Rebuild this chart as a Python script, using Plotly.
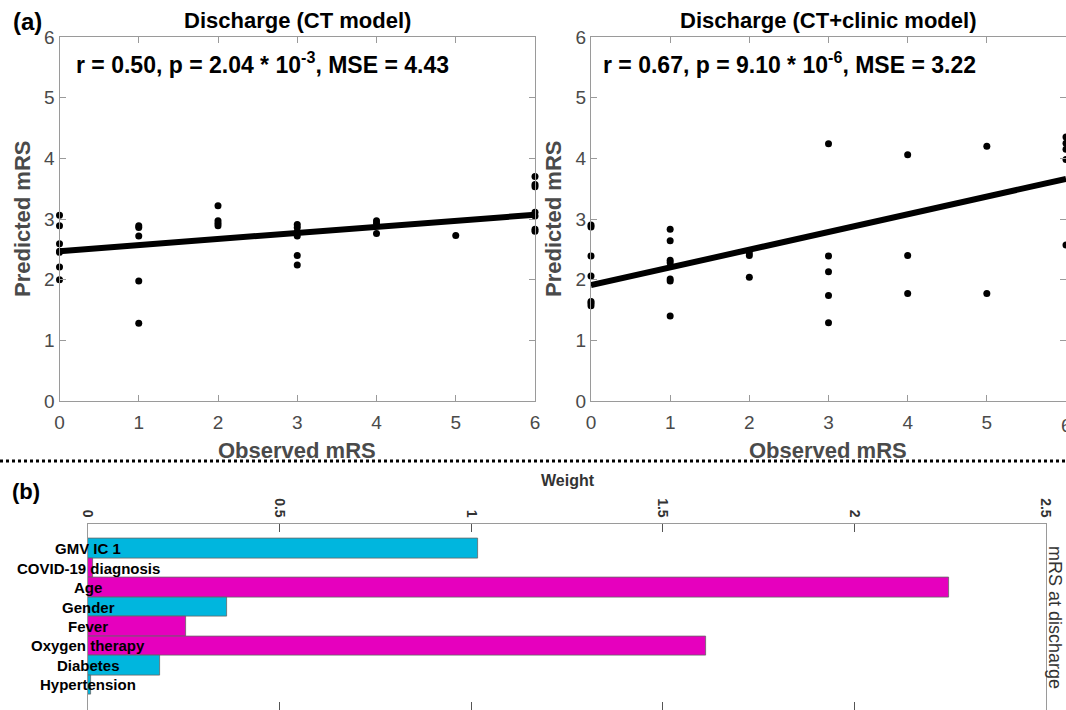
import plotly.graph_objects as go

# ---------------- data ----------------
# Panel (a) left: CT model
ct_observed = [0, 0, 0, 0, 0, 0, 0,
               1, 1, 1, 1, 1,
               2, 2, 2, 2,
               3, 3, 3, 3, 3, 3,
               4, 4, 4,
               5,
               6, 6, 6, 6, 6, 6, 6]
ct_predicted = [3.06, 2.89, 2.59, 2.47, 2.45, 2.21, 2.00,
                2.89, 2.86, 2.72, 1.98, 1.28,
                3.22, 2.97, 2.93, 2.89,
                2.91, 2.86, 2.79, 2.72, 2.40, 2.24,
                2.97, 2.93, 2.76,
                2.73,
                3.70, 3.57, 3.53, 3.11, 3.05, 2.83, 2.80]
ct_fit_intercept = 2.47
ct_fit_slope = 0.10

# Panel (a) right: CT+clinic model
cc_observed = [0, 0, 0, 0, 0, 0, 0,
               1, 1, 1, 1, 1, 1, 1,
               2, 2, 2,
               3, 3, 3, 3, 3,
               4, 4, 4,
               5, 5,
               6, 6, 6, 6, 6]
cc_predicted = [2.90, 2.87, 2.39, 2.06, 1.64, 1.61, 1.57,
                2.83, 2.64, 2.32, 2.28, 2.01, 1.98, 1.40,
                2.44, 2.40, 2.04,
                4.24, 2.39, 2.13, 1.74, 1.29,
                4.06, 2.40, 1.77,
                4.20, 1.77,
                4.35, 4.25, 4.15, 3.98, 2.57]
cc_fit_intercept = 1.91
cc_fit_slope = 0.292

fit_x = [0, 6]
axis_ticks = [0, 1, 2, 3, 4, 5, 6]

# Panel (b): weights
features = ["GMV IC 1", "COVID-19 diagnosis", "Age", "Gender", "Fever",
            "Oxygen therapy", "Diabetes", "Hypertension"]
weights = [1.019, 0.013, 2.246, 0.363, 0.256, 1.612, 0.187, 0.008]
feature_group = ["img", "clin", "clin", "img", "clin", "clin", "img", "img"]
weight_ticks = [0, 0.5, 1, 1.5, 2, 2.5]
weight_ticktext = ["0", "0.5", "1", "1.5", "2", "2.5"]

CYAN = "#00B6DE"
MAGENTA = "#E600BE"
FONT = "Liberation Sans, Arial, sans-serif"
AXIS_GRAY = "#9a9a9a"
TEXT_GRAY = "#4a4a4a"

W, H = 1066, 710


def px_x(p):
    return p / W


def px_y(p):
    return 1 - p / H


fig = go.Figure()

# scatter panels
for xs, ys, b0, b1, xa, ya in [
    (ct_observed, ct_predicted, ct_fit_intercept, ct_fit_slope, "x", "y"),
    (cc_observed, cc_predicted, cc_fit_intercept, cc_fit_slope, "x2", "y2"),
]:
    fig.add_trace(go.Scatter(
        x=fit_x, y=[b0 + b1 * v for v in fit_x], mode="lines",
        line=dict(color="black", width=6), xaxis=xa, yaxis=ya,
        showlegend=False, hoverinfo="skip", cliponaxis=False))
    fig.add_trace(go.Scatter(
        x=xs, y=ys, mode="markers",
        marker=dict(color="black", size=7), xaxis=xa, yaxis=ya,
        showlegend=False, cliponaxis=False))

# bar panel
bar_colors = [CYAN if g == "img" else MAGENTA for g in feature_group]
fig.add_trace(go.Bar(
    x=weights, y=list(range(len(features))), orientation="h",
    marker=dict(color=bar_colors, line=dict(color="#666666", width=0.8)),
    width=1.0, xaxis="x3", yaxis="y3", showlegend=False,
    hovertext=features))

scatter_ax = dict(
    range=[0, 6], tickvals=axis_ticks, showline=True, mirror="ticks",
    linecolor=AXIS_GRAY, linewidth=1.2, ticks="inside", ticklen=6,
    tickcolor=AXIS_GRAY, showgrid=False, zeroline=False, automargin=False,
    tickfont=dict(family=FONT, size=19, color=TEXT_GRAY),
)

yd = [px_y(401), px_y(37)]

fig.update_layout(
    width=W, height=H, margin=dict(l=0, r=0, t=0, b=0, autoexpand=False),
    paper_bgcolor="white", plot_bgcolor="white",
    font=dict(family=FONT),
    bargap=0,
    xaxis=dict(scatter_ax, domain=[px_x(59.5), px_x(535)], anchor="y",
               ticklabelstandoff=4),
    yaxis=dict(scatter_ax, domain=yd, anchor="x"),
    xaxis2=dict(scatter_ax, domain=[px_x(591), 1.0], anchor="y2",
                ticklabelstandoff=4),
    yaxis2=dict(scatter_ax, domain=yd, anchor="x2"),
    xaxis3=dict(range=[0, 2.5], domain=[px_x(88), px_x(1046)], anchor="y3",
                side="top", tickvals=weight_ticks, ticktext=weight_ticktext,
                tickangle=90, showline=True, mirror="ticks",
                linecolor=AXIS_GRAY, linewidth=1, ticks="inside", ticklen=8,
                tickcolor="#555555", showgrid=False, zeroline=False,
                automargin=False,
                tickfont=dict(family=FONT, size=14, color="#333333",
                              weight="bold")),
    yaxis3=dict(range=[8.29, -1.29], domain=[0, px_y(523.5)], anchor="x3",
                showticklabels=False, showline=True, mirror=True,
                linecolor=AXIS_GRAY, linewidth=1, ticks="",
                showgrid=False, zeroline=False, automargin=False),
)

ann = []
# titles
ann.append(dict(x=px_x(297), y=px_y(21), text="Discharge (CT model)",
                font=dict(size=22, color="black", weight="bold")))
ann.append(dict(x=px_x(828), y=px_y(21), text="Discharge (CT+clinic model)",
                font=dict(size=22, color="black", weight="bold")))
# stats
ann.append(dict(x=px_x(74), y=px_y(63), xanchor="left",
                text="r = 0.50, p = 2.04 * 10<sup>-3</sup>, MSE = 4.43",
                font=dict(size=23, color="black", weight="bold")))
ann.append(dict(x=px_x(601), y=px_y(63), xanchor="left",
                text="r = 0.67, p = 9.10 * 10<sup>-6</sup>, MSE = 3.22",
                font=dict(size=23, color="black", weight="bold")))
# axis titles
for cx in (297, 828):
    ann.append(dict(x=px_x(cx), y=px_y(450), text="Observed mRS",
                    font=dict(size=22, color=TEXT_GRAY, weight="bold")))
for cx in (22, 553):
    ann.append(dict(x=px_x(cx), y=px_y(219), text="Predicted mRS",
                    textangle=-90,
                    font=dict(size=22, color=TEXT_GRAY, weight="bold")))
# right panel's last tick label (cut by the picture edge as in the source)
ann.append(dict(x=1.0, y=px_y(425), text="6",
                font=dict(size=19, color=TEXT_GRAY)))
# panel labels
ann.append(dict(x=px_x(27), y=px_y(22), text="(a)",
                font=dict(size=24, color="black", weight="bold")))
ann.append(dict(x=px_x(26), y=px_y(491), text="(b)",
                font=dict(size=22, color="black", weight="bold")))
# weight axis title & right label
ann.append(dict(x=px_x(568), y=px_y(480), text="Weight",
                font=dict(size=16, color="#333333", weight="bold")))
ann.append(dict(x=px_x(1055), y=px_y(617), text="mRS at discharge",
                textangle=90,
                font=dict(size=18, color="#333333")))
# feature labels centered on the axis line
for i, name in enumerate(features):
    ann.append(dict(x=0, y=i, xref="x3", yref="y3", text=name,
                    xanchor="center",
                    font=dict(size=15, color="black", weight="bold")))

for a in ann:
    a.setdefault("xref", "paper")
    a.setdefault("yref", "paper")
    a.setdefault("showarrow", False)
    a.setdefault("xanchor", "center")
    a.setdefault("yanchor", "middle")
    a["font"].setdefault("family", FONT)
fig.update_layout(annotations=ann)

# dotted separator
fig.add_shape(type="line", xref="paper", yref="paper",
              x0=0, x1=1, y0=px_y(461), y1=px_y(461),
              line=dict(color="black", width=3, dash="dot"))

fig.write_html(
    "out.html",
    config={"displayModeBar": False},
    post_script="document.body.style.margin='0';"
                "document.body.style.overflow='hidden';",
)
